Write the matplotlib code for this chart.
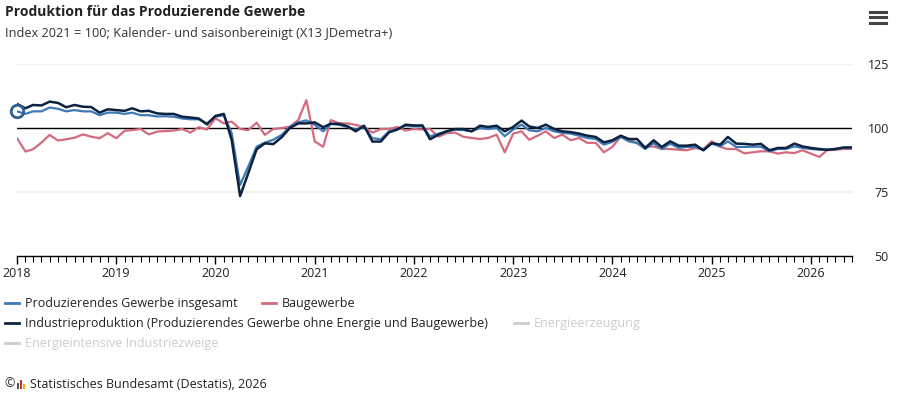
import pandas as pd
import matplotlib
matplotlib.use('Agg')
import matplotlib.pyplot as plt
import matplotlib.dates as mdates
from matplotlib.lines import Line2D
from matplotlib.patches import Rectangle

plt.rcParams['font.family'] = ['Open Sans', 'DejaVu Sans']

title = 'Produktion für das Produzierende Gewerbe'
subtitle = 'Index 2021 = 100; Kalender- und saisonbereinigt (X13 JDemetra+)'
source = 'Statistisches Bundesamt (Destatis), 2026'

months = pd.date_range('2018-01-01', periods=102, freq='MS')

insgesamt = [
    106.5, 105.5, 106.5, 106.5, 108.0, 107.5, 106.5, 107.0, 106.5, 106.5, 105.0, 106.0,
    106.0, 105.5, 106.0, 105.0, 105.0, 104.5, 104.6, 104.4, 103.7, 103.4, 103.4, 101.8,
    104.4, 105.0, 98.0, 77.7, 84.9, 92.7, 94.3, 95.4, 97.3, 100.4, 102.2, 103.0,
    101.2, 98.7, 101.6, 101.2, 100.4, 99.4, 100.4, 96.0, 95.6, 98.7, 99.6, 100.9,
    100.7, 100.7, 96.7, 97.8, 98.7, 99.4, 99.2, 98.7, 100.0, 99.6, 100.0, 96.8,
    99.4, 101.3, 99.1, 98.7, 100.0, 98.7, 98.1, 97.8, 97.0, 96.1, 95.7, 93.5,
    94.6, 96.5, 94.8, 94.1, 91.8, 94.1, 91.8, 93.9, 92.2, 92.6, 92.6, 91.3,
    93.9, 92.8, 94.8, 92.6, 92.6, 92.7, 92.7, 90.9, 91.8, 91.8, 92.8, 92.2,
    91.8, 91.5, 91.5, 91.8, 92.2, 92.2,
]

industrie = [
    109.4, 107.7, 109.0, 108.8, 110.3, 109.8, 108.1, 109.0, 108.3, 108.2, 106.0, 107.3,
    107.0, 106.7, 107.7, 106.5, 106.7, 105.7, 105.5, 105.5, 104.4, 104.1, 103.7, 101.4,
    104.7, 105.5, 95.4, 73.4, 82.3, 91.7, 94.0, 93.7, 96.4, 100.0, 101.8, 101.8,
    102.2, 100.3, 101.7, 101.6, 100.7, 98.7, 100.9, 94.7, 94.7, 98.3, 99.4, 101.3,
    101.0, 101.0, 95.6, 97.4, 98.7, 99.6, 99.6, 98.7, 100.9, 100.4, 100.9, 98.7,
    100.4, 102.9, 100.6, 100.0, 101.3, 99.6, 98.7, 98.4, 97.8, 97.0, 96.5, 94.4,
    95.2, 97.0, 95.7, 95.7, 92.2, 95.2, 92.6, 94.8, 93.1, 93.1, 93.5, 91.3,
    94.1, 93.5, 96.5, 93.9, 93.8, 93.5, 93.8, 91.3, 92.2, 92.2, 93.9, 92.8,
    92.2, 91.8, 91.5, 91.8, 92.4, 92.4,
]

bau = [
    96.0, 90.8, 91.7, 94.3, 97.3, 95.1, 95.6, 96.2, 97.5, 96.6, 96.0, 98.0,
    96.0, 98.9, 99.2, 99.6, 97.5, 98.6, 98.8, 99.0, 99.6, 98.2, 100.3, 99.4,
    103.8, 101.8, 102.5, 99.6, 99.2, 102.1, 97.3, 99.6, 100.0, 100.5, 103.1, 110.9,
    94.7, 92.7, 103.1, 101.8, 101.8, 101.2, 100.4, 98.2, 99.6, 99.6, 100.4, 99.0,
    99.6, 99.4, 99.6, 96.6, 98.0, 98.2, 96.6, 96.1, 95.7, 96.1, 97.4, 90.5,
    97.8, 98.7, 95.4, 97.0, 98.7, 96.1, 97.4, 95.2, 96.1, 94.2, 94.2, 90.5,
    92.6, 96.7, 95.7, 94.1, 92.6, 92.8, 91.8, 91.8, 91.5, 91.3, 92.2, 91.8,
    94.8, 92.6, 91.8, 91.8, 90.1, 90.5, 90.9, 90.9, 90.0, 90.5, 90.2, 91.3,
    90.0, 88.7, 91.3, 91.5, 91.8, 91.8,
]

legend_labels = [
    'Produzierendes Gewerbe insgesamt',
    'Baugewerbe',
    'Industrieproduktion (Produzierendes Gewerbe ohne Energie und Baugewerbe)',
    'Energieerzeugung',
    'Energieintensive Industriezweige',
]

c_blue = '#3d79b4'
c_navy = '#0d2240'
c_pink = '#d46a7f'
c_off = '#cccccc'

W, H = 902, 400


def fx(px):
    return px / W


def fy(py):
    return 1 - py / H


fig = plt.figure(figsize=(W / 100, H / 100), dpi=100)
ax = fig.add_axes([fx(17), fy(256), (852 - 17) / W, 192 / H])

ax.axhline(125, color='#f0f0f0', lw=1.5, zorder=0)
ax.axhline(75, color='#f0f0f0', lw=1.5, zorder=0)
ax.axhline(100, color='black', lw=1.0, zorder=1)

ax.plot(months, bau, color=c_pink, lw=1.6, zorder=2)
ax.plot(months, insgesamt, color=c_blue, lw=1.6, zorder=3)
# hover-style ring on the first point of the total series
ax.plot(months[:1], insgesamt[:1], linestyle='none', marker='o', markersize=9,
        markerfacecolor='none', markeredgecolor='#2f5f93', markeredgewidth=2,
        clip_on=False, zorder=5)
ax.plot(months, industrie, color=c_navy, lw=1.8, zorder=4)

ax.set_xlim(months[0], months[-1])
ax.set_ylim(50, 125)
ax.set_yticks([50, 75, 100, 125])
ax.yaxis.tick_right()
ax.tick_params(axis='y', length=0, pad=26.5, labelsize=9, labelcolor='#222222')
plt.setp(ax.get_yticklabels(), ha='right')

ax.xaxis.set_major_locator(mdates.YearLocator())
ax.xaxis.set_major_formatter(mdates.DateFormatter('%Y'))
ax.xaxis.set_minor_locator(mdates.MonthLocator())
ax.tick_params(axis='x', which='major', length=6, width=1, pad=2,
               labelsize=9, labelcolor='#222222')
ax.tick_params(axis='x', which='minor', length=4, width=0.8)

for s in ['top', 'left', 'right']:
    ax.spines[s].set_visible(False)
ax.spines['bottom'].set_color('black')
ax.spines['bottom'].set_linewidth(1.0)

# titles
fig.text(fx(5), fy(12), title, fontsize=10, fontweight='bold', color='#222222', va='center')
fig.text(fx(5), fy(33), subtitle, fontsize=9.2, color='#333333', va='center')

# menu icon
for yy in [11.5, 17, 22.5]:
    fig.add_artist(Line2D([fx(870), fx(886)], [fy(yy), fy(yy)], color='#444444', lw=2.2))

# legend, laid out like the original
legend_items = [
    (legend_labels[0], c_blue, '#222222', 5, 303),
    (legend_labels[1], c_pink, '#222222', 262, 303),
    (legend_labels[2], c_navy, '#222222', 5, 323),
    (legend_labels[3], c_off, c_off, 514, 323),
    (legend_labels[4], c_off, c_off, 5, 343),
]
for label, lc, tc, x0, y0 in legend_items:
    fig.add_artist(Line2D([fx(x0), fx(x0 + 14)], [fy(y0), fy(y0)], color=lc, lw=2.0))
    fig.text(fx(x0 + 20), fy(y0), label, fontsize=9, color=tc, va='center')

# footer
fig.text(fx(4), fy(384), '©', fontsize=9, color='#222222', va='center')
for bx, bh, bc in [(17, 6, '#555555'), (20, 9, '#d0312d'), (23, 5, '#f2b600')]:
    fig.add_artist(Rectangle((fx(bx), fy(389)), 2 / W, bh / H, color=bc, lw=0))
fig.text(fx(30), fy(384), source, fontsize=9, color='#222222', va='center')

fig.savefig('out.png', dpi=100)
